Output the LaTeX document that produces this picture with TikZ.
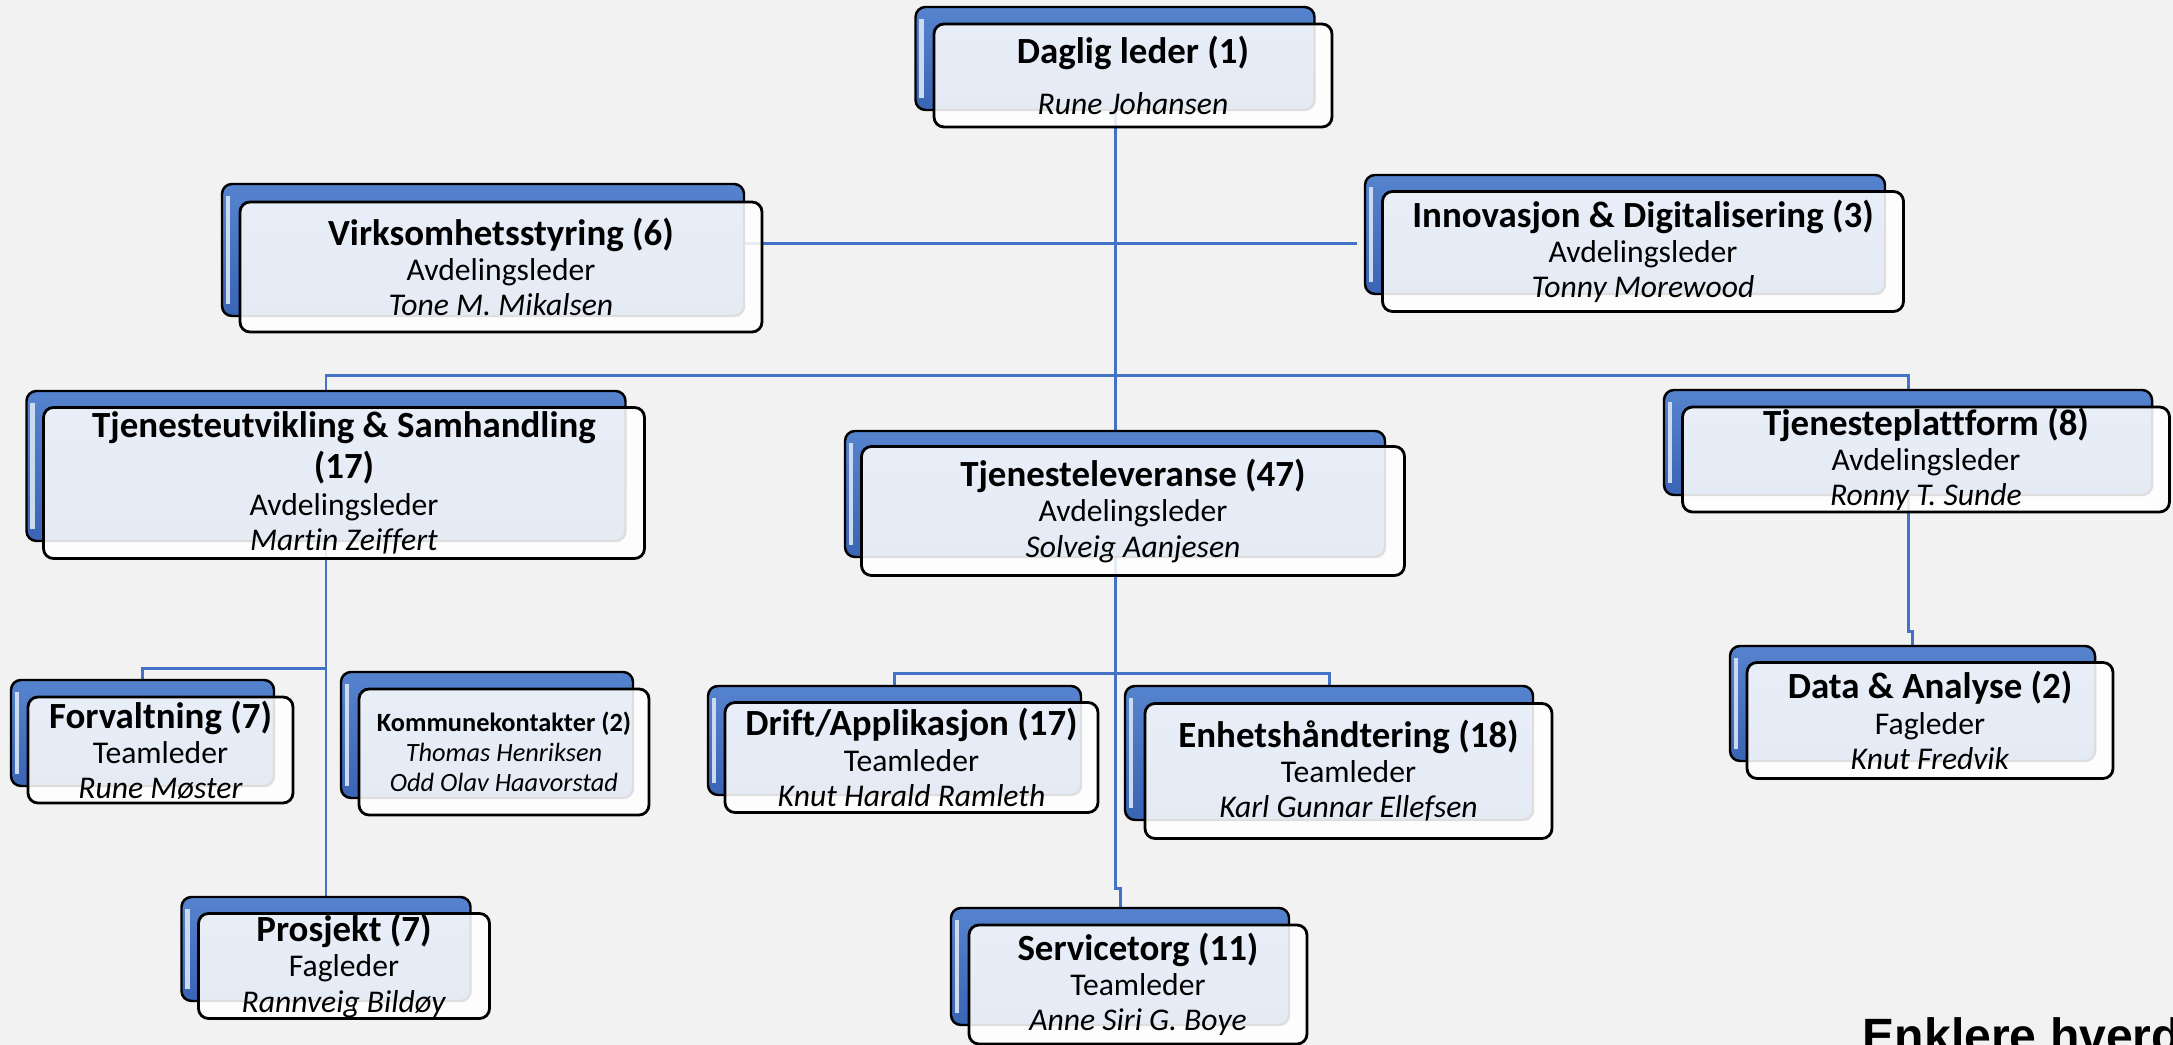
\documentclass[tikz,border=0pt]{standalone}
\usepackage{fontspec}
\setmainfont{Carlito}[Ligatures=NoCommon]
\newfontfamily\mottofont{Liberation Sans}
\definecolor{linkblue}{HTML}{4472C4}
\definecolor{blueT}{HTML}{5683CE}
\definecolor{blueB}{HTML}{3A64B4}
\definecolor{canvas}{HTML}{F2F2F2}
\newcommand{\deptname}[1]{{\fontsize{10.5}{11}\selectfont\bfseries #1}}
\pgfdeclarelayer{bg}
\pgfsetlayers{bg,main}

\begin{document}
\begin{tikzpicture}[
        back/.style={draw=black, line width=0.7pt, rounded corners=0.1cm, inner sep=0pt,
            top color=blueT, bottom color=blueB,
            path picture={\draw [white!70!blueT, line width=1.4pt]
                ([xshift=0.06cm, yshift=-0.12cm]path picture bounding box.north west) --
                ([xshift=0.06cm, yshift=0.12cm]path picture bounding box.south west);}},
        front/.style={draw=black, line width=0.8pt, rounded corners=0.1cm, inner sep=0pt,
            fill=white, fill opacity=0.87, text opacity=1, align=center,
            font=\fontsize{9}{10}\selectfont},
        dims/.style 2 args={minimum width=#1cm, minimum height=#2cm},
        link/.style={draw=linkblue, line width=0.85pt}
    ]
    \useasboundingbox (0, 0) rectangle (21.73, 10.45);
    \begin{pgfonlayer}{bg}
        \fill [canvas] (0, 0) rectangle (21.73, 10.45);
    \end{pgfonlayer}
    \clip (0, 0) rectangle (21.73, 10.45);

    % leder
    \node [back, dims={3.99}{1.03}] at (11.15, 9.865) (DLb) {};
    \node [front, dims={3.98}{1.03}] at (11.33, 9.695) (DL) {\deptname{Daglig leder (1)}\\[4.5pt] \textit{Rune Johansen}};

    % stab
    \node [back, dims={5.22}{1.32}] at (4.83, 7.95) (VSb) {};
    \node [front, dims={5.22}{1.30}] at (5.01, 7.78) (VS) {\deptname{Virksomhetsstyring (6)}\\ Avdelingsleder\\ \textit{Tone M. Mikalsen}};
    \node [back, dims={5.20}{1.19}] at (16.25, 8.105) (INb) {};
    \node [front, dims={5.21}{1.20}] at (16.43, 7.935) (IN) {\deptname{Innovasjon \& Digitalisering (3)}\\ Avdelingsleder\\ \textit{Tonny Morewood}};

    % avdelinger
    \node [back, dims={5.99}{1.50}] at (3.26, 5.79) (TSb) {};
    \node [front, dims={6.01}{1.51}] at (3.44, 5.62) (TS) {\deptname{Tjenesteutvikling \& Samhandling}\\[1.5pt] \deptname{(17)}\\[0.5pt] Avdelingsleder\\ \textit{Martin Zeiffert}};
    \node [back, dims={5.40}{1.26}] at (11.15, 5.51) (TLb) {};
    \node [front, dims={5.43}{1.29}] at (11.33, 5.34) (TL) {\deptname{Tjenesteleveranse (47)}\\ Avdelingsleder\\ \textit{Solveig Aanjesen}};
    \node [back, dims={4.88}{1.05}] at (19.08, 6.025) (TPb) {};
    \node [front, dims={4.87}{1.05}] at (19.26, 5.855) (TP) {\deptname{Tjenesteplattform (8)}\\ Avdelingsleder\\ \textit{Ronny T. Sunde}};

    % team
    \node [back, dims={2.63}{1.06}] at (1.425, 3.12) (FVb) {};
    \node [front, dims={2.65}{1.06}] at (1.605, 2.95) (FV) {\deptname{Forvaltning (7)}\\ Teamleder\\ \textit{Rune Møster}};
    \node [back, dims={2.92}{1.26}] at (4.87, 3.10) (KKb) {};
    \node [front, dims={2.90}{1.26}, font=\fontsize{7.5}{8.6}\selectfont] at (5.04, 2.93) (KK) {\textbf{Kommunekontakter (2)}\\ \textit{Thomas Henriksen}\\ \textit{Odd Olav Haavorstad}};
    \node [back, dims={2.89}{1.04}] at (3.26, 0.96) (PRb) {};
    \node [front, dims={2.91}{1.05}] at (3.44, 0.79) (PR) {\deptname{Prosjekt (7)}\\ Fagleder\\ \textit{Rannveig Bildøy}};
    \node [back, dims={3.73}{1.09}] at (8.945, 3.045) (DAb) {};
    \node [front, dims={3.73}{1.10}] at (9.115, 2.875) (DA) {\deptname{Drift/Applikasjon (17)}\\ Teamleder\\ \textit{Knut Harald Ramleth}};
    \node [back, dims={4.08}{1.34}] at (13.29, 2.92) (EHb) {};
    \node [front, dims={4.07}{1.35}] at (13.485, 2.74) (EH) {\deptname{Enhetshåndtering (18)}\\ Teamleder\\ \textit{Karl Gunnar Ellefsen}};
    \node [back, dims={3.38}{1.17}] at (11.20, 0.785) (STb) {};
    \node [front, dims={3.38}{1.19}] at (11.38, 0.605) (ST) {\deptname{Servicetorg (11)}\\ Teamleder\\ \textit{Anne Siri G. Boye}};
    \node [back, dims={3.65}{1.15}] at (19.125, 3.415) (DANb) {};
    \node [front, dims={3.66}{1.16}] at (19.30, 3.245) (DAN) {\deptname{Data \& Analyse (2)}\\ Fagleder\\ \textit{Knut Fredvik}};

    \node [anchor=base west, inner sep=0pt, font=\mottofont\bfseries\fontsize{13.7}{16}\selectfont] at (18.62, -0.08) (motto) {Enklere hverd};

    % linjer
    \begin{pgfonlayer}{bg}
        \coordinate (vsin) at (11.15, 8.01);
        \path [link]
            (DLb) edge (TLb)
            (TSb) edge (PRb)
            (VSb.east |- vsin) edge ([xshift=-0.07cm]INb.west |- vsin);
        \draw [link] (TSb.north) -- ++(0, 0.14) -| (TPb.north);
        \draw [link] (FVb.north) -- ++(0, 0.1) -| (TSb.south);
        \draw [link] (DAb.north) -- ++(0, 0.11) -| (EHb.north);
        \draw [link] (TLb.south) -- ++(0, -3.3) -| (STb.north);
        \draw [link] (TPb.south) -- ++(0, -1.35) -| (DANb.north);
    \end{pgfonlayer}
\end{tikzpicture}
\end{document}
